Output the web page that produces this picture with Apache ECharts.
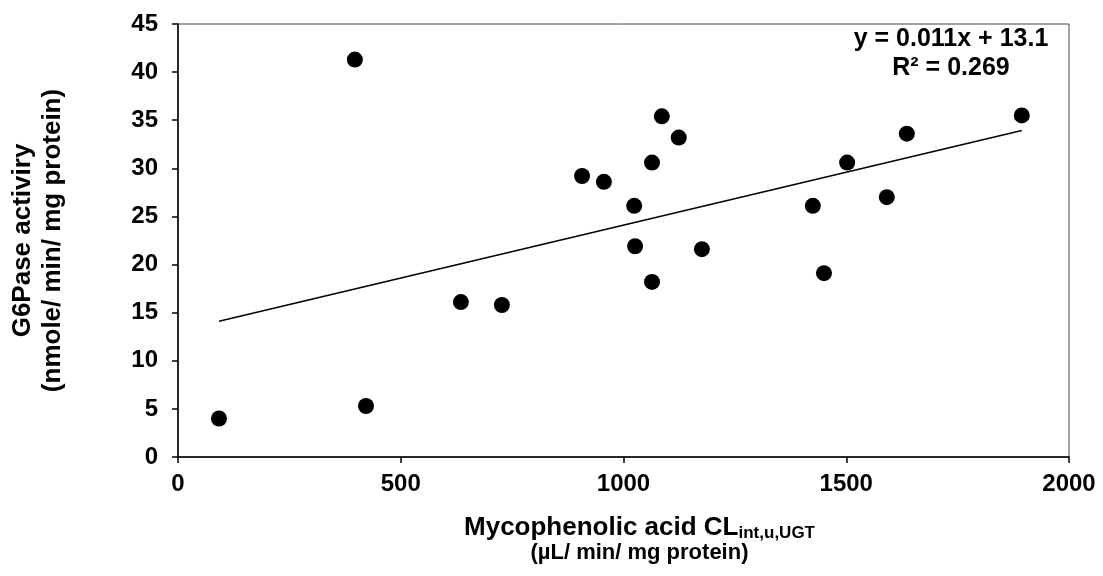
<!DOCTYPE html>
<html>
<head>
<meta charset="utf-8">
<script src="https://cdn.jsdelivr.net/npm/echarts@6/dist/echarts.min.js"></script>
<style>
  html, body { margin: 0; padding: 0; background: #fff; }
  #chart { width: 1103px; height: 576px; }
</style>
</head>
<body>
<div id="chart"></div>
<script>
// MPA clearance (x) vs G6Pase activity (y)
const clearance = [92, 397, 422, 635, 727, 907, 956, 1024, 1026, 1064, 1064, 1086, 1124, 1176, 1425, 1450, 1502, 1591, 1636, 1894];
const activity = [4.0, 41.3, 5.3, 16.1, 15.8, 29.2, 28.6, 26.1, 21.9, 30.6, 18.2, 35.4, 33.2, 21.6, 26.1, 19.1, 30.6, 27.0, 33.6, 35.5];
const xTicks = [0, 500, 1000, 1500, 2000];
const yTicks = [0, 5, 10, 15, 20, 25, 30, 35, 40, 45];
const slope = 0.011;
const intercept = 13.1;
const r2 = 0.269;

const points = clearance.map((x, i) => [x, activity[i]]);
const xMin = Math.min(...clearance);
const xMax = Math.max(...clearance);
const trend = [[xMin, slope * xMin + intercept], [xMax, slope * xMax + intercept]];

const font = "'Liberation Sans', Arial, sans-serif";

const chart = echarts.init(document.getElementById('chart'));
chart.setOption({
  animation: false,
  grid: {
    left: 178, right: 34, top: 24, bottom: 119,
    show: true, borderColor: '#444', borderWidth: 1
  },
  xAxis: {
    type: 'value',
    min: xTicks[0], max: xTicks[xTicks.length - 1], interval: 500,
    splitLine: { show: false },
    axisLine: { lineStyle: { color: '#000', width: 1.5 } },
    axisTick: { show: true, length: 6, lineStyle: { color: '#000', width: 1.5 } },
    axisLabel: { color: '#000', fontFamily: font, fontWeight: 'bold', fontSize: 24, margin: 15, formatter: v => String(v) },
    name: '{a|Mycophenolic acid CL}{s|int,u,UGT}\n{b|(µL/ min/ mg protein)}',
    nameLocation: 'middle',
    nameGap: 58,
    nameTextStyle: {
      padding: [0, 0, 0, 32],
      rich: {
        a: { fontFamily: font, fontWeight: 'bold', fontSize: 26, color: '#000', lineHeight: 25 },
        b: { fontFamily: font, fontWeight: 'bold', fontSize: 22, color: '#000', lineHeight: 25 },
        s: { fontFamily: font, fontWeight: 'bold', fontSize: 17, color: '#000', lineHeight: 25, padding: [12, 0, 0, 0] }
      }
    }
  },
  yAxis: {
    type: 'value',
    min: yTicks[0], max: yTicks[yTicks.length - 1], interval: 5,
    splitLine: { show: false },
    axisLine: { show: true, lineStyle: { color: '#000', width: 1.5 } },
    axisTick: { show: true, length: 6, lineStyle: { color: '#000', width: 1.5 } },
    axisLabel: { color: '#000', fontFamily: font, fontWeight: 'bold', fontSize: 24, margin: 20 },
    name: 'G6Pase activiry\n(nmole/ min/ mg protein)',
    nameLocation: 'middle',
    nameGap: 110,
    nameTextStyle: { color: '#000', fontFamily: font, fontWeight: 'bold', fontSize: 26, lineHeight: 30 }
  },
  graphic: [
    {
      type: 'text',
      style: {
        x: 951, y: 39, text: 'y = ' + slope.toFixed(3) + 'x + ' + intercept.toFixed(1),
        textAlign: 'center', textVerticalAlign: 'middle',
        font: 'bold 25px ' + font, fill: '#000'
      }
    },
    {
      type: 'text',
      style: {
        x: 951, y: 68, text: 'R² = ' + r2.toFixed(3),
        textAlign: 'center', textVerticalAlign: 'middle',
        font: 'bold 25px ' + font, fill: '#000'
      }
    }
  ],
  series: [
    {
      type: 'line',
      data: trend,
      showSymbol: false,
      lineStyle: { color: '#000', width: 1.5 },
      silent: true,
      z: 1
    },
    {
      type: 'scatter',
      data: points,
      symbol: 'circle',
      symbolSize: 16,
      itemStyle: { color: '#000', opacity: 1 },
      z: 2
    }
  ]
});
</script>
</body>
</html>
